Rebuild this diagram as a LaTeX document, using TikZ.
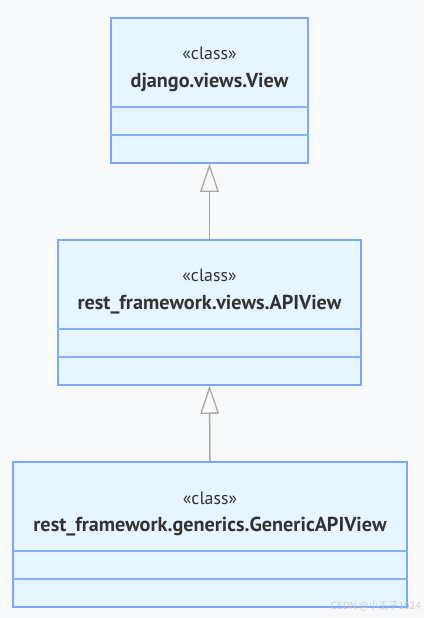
\documentclass[tikz,border=0pt]{standalone}
\usepackage{fontspec}
\setmainfont{PT Sans}
\newfontfamily\cjkfont{Noto Sans CJK SC}
\usetikzlibrary{arrows.meta}
\definecolor{bgcol}{HTML}{F8F9FB}
\definecolor{boxfill}{HTML}{E6F5FF}
\definecolor{boxline}{HTML}{7DA8FA}
\definecolor{divline}{HTML}{86B0FA}
\definecolor{arrowcol}{HTML}{A8A8A8}
\definecolor{txtcol}{HTML}{333333}
\tikzset{
  classbox/.style={draw=boxline, fill=boxfill, line width=1.6pt, rectangle, inner sep=0pt, minimum height=145pt},
  divider/.style={draw=divline, line width=1.6pt},
  stereo/.style={font=\fontsize{17.8}{20}\selectfont, text=txtcol, inner sep=0pt, anchor=base},
  cname/.style={font=\fontsize{20.2}{24}\selectfont\bfseries, text=txtcol, inner sep=0pt, anchor=base},
  inherit/.style={draw=arrowcol, line width=1.5pt, -{Triangle[open, length=28pt, width=18.6pt, fill=bgcol, line width=1.3pt]}},
}
\begin{document}
\begin{tikzpicture}[x=1pt, y=-1pt]
\useasboundingbox[fill=bgcol] (0,0) rectangle (424,618);
% boxes
\node[classbox, minimum width=197pt] (b1) at (209.5,90.5) {};
\node[classbox, minimum width=303pt] (b2) at (209.5,312.5) {};
\node[classbox, minimum width=394pt] (b3) at (210,534.5) {};
% dividers
\foreach \b in {b1,b2,b3}{
  \draw[divider] ([yshift=-90pt]\b.north west) -- ([yshift=-90pt]\b.north east);
  \draw[divider] ([yshift=-118pt]\b.north west) -- ([yshift=-118pt]\b.north east);
}
% texts
\node[stereo] (s1) at (209.5,59.5) {«class»};
\node[cname] (n1) at (209.5,87.5) {django.views.View};
\node[stereo] (s2) at (209.5,281.5) {«class»};
\node[cname] (n2) at (209.5,309.5) {rest\_framework.views.APIView};
\node[stereo] (s3) at (210,504) {«class»};
\node[cname] (n3) at (210,531.7) {rest\_framework.generics.GenericAPIView};
% inheritance arrows
\draw[inherit] (b2.north) -- (b1.south);
\draw[inherit] (b3.north) -- (b2.south);
% watermark
\node[font=\cjkfont\fontsize{10}{12}\selectfont, text=gray!45, opacity=0.8, anchor=east, inner sep=0pt] (wm) at (421,606) {CSDN @小王子1024};
\end{tikzpicture}
\end{document}
